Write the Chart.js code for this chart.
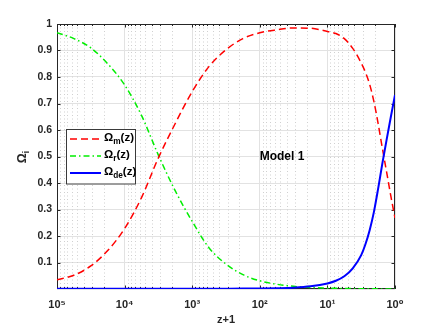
<!DOCTYPE html>
<html><head><meta charset="utf-8">
<script src="https://cdn.jsdelivr.net/npm/chart.js@4"></script>
<style>html,body{margin:0;padding:0;background:#fff;overflow:hidden}</style>
</head><body>
<canvas id="c" width="436" height="327"></canvas>
<script>
// ---- data ----
const zPlus1 = [100000, 56234, 31623, 17783, 10000, 5623, 3162, 1778, 1000, 562.3, 316.2, 177.8, 100, 56.23, 31.62, 17.78, 10, 7.499, 5.623, 4.217, 3.162, 2.738, 2.371, 2.054, 1.778, 1.540, 1.334, 1.155, 1];
const omegaM  = [0.035, 0.052, 0.087, 0.145, 0.228, 0.345, 0.495, 0.625, 0.745, 0.84, 0.903, 0.945, 0.967, 0.978, 0.985, 0.984, 0.972, 0.964, 0.945, 0.908, 0.853, 0.818, 0.772, 0.708, 0.625, 0.532, 0.443, 0.352, 0.268];
const omegaR  = [0.967, 0.945, 0.91, 0.85, 0.77, 0.655, 0.505, 0.37, 0.255, 0.155, 0.094, 0.054, 0.031, 0.018, 0.010, 0.006, 0.0033, 0.0025, 0.0018, 0.0014, 0.001, 0.0008, 0.0007, 0.0006, 0.0005, 0.0004, 0.0004, 0.0003, 0.0003];
const omegaDE = [0.0005, 0.0005, 0.0005, 0.0005, 0.0005, 0.0005, 0.0006, 0.0007, 0.0008, 0.001, 0.0012, 0.0015, 0.002, 0.003, 0.005, 0.01, 0.021, 0.031, 0.048, 0.078, 0.128, 0.169, 0.222, 0.29, 0.378, 0.473, 0.562, 0.648, 0.732];
const seriesLabels = ['Ω_m(z)', 'Ω_r(z)', 'Ω_de(z)'];
const xTickValues = [100000, 10000, 1000, 100, 10, 1];
const xTickLabels = ['10⁵', '10⁴', '10³', '10²', '10¹', '10⁰'];
const yTickValues = [0.1, 0.2, 0.3, 0.4, 0.5, 0.6, 0.7, 0.8, 0.9, 1];
const yTickLabels = ['0.1', '0.2', '0.3', '0.4', '0.5', '0.6', '0.7', '0.8', '0.9', '1'];
const xTitle = 'z+1';
const yTitle = 'Ω_i';
const modelText = 'Model 1';
const modelTextAt = {x: 47, y: 0.5};

// ---- styling ----
const FONT = "'Liberation Sans', Arial, 'DejaVu Sans', sans-serif";
const AXIS = '#262626';
const colors = ['#ff0000', '#00ee00', '#0000ff'];
const dashes = [[7, 4], [6, 3, 1.5, 3], []];
const widths = [1.5, 1.5, 2];
const series = [omegaM, omegaR, omegaDE];

function pts(arr) { return zPlus1.map((z, i) => ({x: z, y: arr[i]})); }

function drawRich(ctx, label, x, y, size, measureOnly) {
  const m = label.match(/^([^_]*)_?([^(]*)(.*)$/);
  const parts = [[m[1], size, 0], [m[2], size * 0.72, size * 0.32], [m[3], size, 0]];
  let w = 0;
  for (const [t, s, dy] of parts) {
    if (!t) continue;
    ctx.font = `bold ${s}px ${FONT}`;
    if (!measureOnly) ctx.fillText(t, x + w, y + dy);
    w += ctx.measureText(t).width;
  }
  return w;
}

const matlabAxes = {
  id: 'matlabAxes',
  beforeDatasetsDraw(chart) {
    const {ctx, chartArea: a, scales: {x, y}} = chart;
    ctx.save();
    ctx.strokeStyle = '#d0d0d0';
    ctx.lineWidth = 1;
    ctx.setLineDash([1, 2.5]);
    const minor = [];
    for (let e = 0; e < 5; e++) for (let k = 2; k <= 9; k++) minor.push(k * Math.pow(10, e));
    for (const v of minor) {
      const px = Math.round(x.getPixelForValue(v)) + 0.5;
      ctx.beginPath(); ctx.moveTo(px, a.top); ctx.lineTo(px, a.bottom); ctx.stroke();
    }
    ctx.setLineDash([]);
    ctx.strokeStyle = AXIS;
    ctx.lineWidth = 1;
    ctx.strokeRect(a.left + 0.5, a.top + 0.5, a.right - a.left - 1, a.bottom - a.top - 1);
    ctx.beginPath();
    for (const v of xTickValues) {
      const px = Math.round(x.getPixelForValue(v)) + 0.5;
      ctx.moveTo(px, a.bottom); ctx.lineTo(px, a.bottom - 3.5);
      ctx.moveTo(px, a.top); ctx.lineTo(px, a.top + 3.5);
    }
    for (const v of minor) {
      const px = Math.round(x.getPixelForValue(v)) + 0.5;
      ctx.moveTo(px, a.bottom); ctx.lineTo(px, a.bottom - 2);
      ctx.moveTo(px, a.top); ctx.lineTo(px, a.top + 2);
    }
    for (const v of yTickValues) {
      const py = Math.round(y.getPixelForValue(v)) + 0.5;
      ctx.moveTo(a.left, py); ctx.lineTo(a.left + 3.5, py);
      ctx.moveTo(a.right, py); ctx.lineTo(a.right - 3.5, py);
    }
    ctx.stroke();
    ctx.restore();
  },
  afterDatasetsDraw(chart) {
    const {ctx, chartArea: a, scales: {x, y}} = chart;
    ctx.save();
    ctx.fillStyle = '#000';
    ctx.textBaseline = 'middle';
    ctx.font = `bold 12px ${FONT}`;
    ctx.textAlign = 'center';
    ctx.fillText(modelText, x.getPixelForValue(modelTextAt.x), y.getPixelForValue(modelTextAt.y));
    ctx.textAlign = 'left';
    const lx = 66.5, ly = 129.5, lw = 69, lh = 54.5;
    ctx.fillStyle = '#fff';
    ctx.fillRect(lx, ly, lw, lh);
    ctx.strokeStyle = '#3a3a3a';
    ctx.lineWidth = 1;
    ctx.strokeRect(lx, ly, lw, lh);
    const rows = [139, 156, 173];
    seriesLabels.forEach((lab, i) => {
      ctx.strokeStyle = colors[i];
      ctx.lineWidth = widths[i];
      ctx.setLineDash(dashes[i]);
      ctx.beginPath(); ctx.moveTo(70, rows[i]); ctx.lineTo(101, rows[i]); ctx.stroke();
      ctx.setLineDash([]);
      ctx.fillStyle = '#000';
      drawRich(ctx, lab, 104, rows[i] - 1, 11.5);
    });
    ctx.fillStyle = AXIS;
    ctx.font = `bold 11px ${FONT}`;
    ctx.textAlign = 'center';
    ctx.fillText(xTitle, (a.left + a.right) / 2, 320);
    ctx.textAlign = 'left';
    ctx.translate(23, 157);
    ctx.rotate(-Math.PI / 2);
    const w = drawRich(ctx, yTitle, 0, 0, 12.5, true);
    drawRich(ctx, yTitle, -w / 2, 0, 12.5);
    ctx.restore();
  }
};

new Chart(document.getElementById('c'), {
  type: 'line',
  data: {
    datasets: series.map((s, i) => ({
      label: seriesLabels[i],
      data: pts(s),
      borderColor: colors[i],
      borderWidth: widths[i],
      borderDash: dashes[i],
      pointRadius: 0,
      fill: false,
      cubicInterpolationMode: 'monotone',
      order: [1, 2, 0][i]
    }))
  },
  options: {
    responsive: false,
    animation: false,
    devicePixelRatio: 1,
    layout: {padding: {left: 0, top: 24, right: 41, bottom: 0}},
    plugins: {legend: {display: false}, tooltip: {enabled: false}},
    scales: {
      x: {
        type: 'logarithmic',
        min: 1, max: 100000,
        reverse: true,
        afterBuildTicks: s => { s.ticks = xTickValues.map(v => ({value: v})); },
        afterFit: s => { s.height = 38; },
        grid: {color: '#e2e2e2', drawTicks: false},
        border: {display: false},
        ticks: {
          autoSkip: false, maxRotation: 0, padding: 9,
          color: AXIS,
          font: {family: FONT, size: 11, weight: 'bold'},
          callback: v => { const i = xTickValues.indexOf(v); return i >= 0 ? xTickLabels[i] : ''; }
        }
      },
      y: {
        type: 'linear',
        min: 0, max: 1,
        afterBuildTicks: s => { s.ticks = [0].concat(yTickValues).map(v => ({value: v})); },
        afterFit: s => { s.width = 57; },
        grid: {color: '#e2e2e2', drawTicks: false},
        border: {display: false},
        ticks: {
          padding: 5,
          color: AXIS,
          font: {family: FONT, size: 10.5, weight: 'bold'},
          callback: v => { const i = yTickValues.findIndex(t => Math.abs(t - v) < 1e-9); return i >= 0 ? yTickLabels[i] : ''; }
        }
      }
    }
  },
  plugins: [matlabAxes]
});
</script>
</body></html>
